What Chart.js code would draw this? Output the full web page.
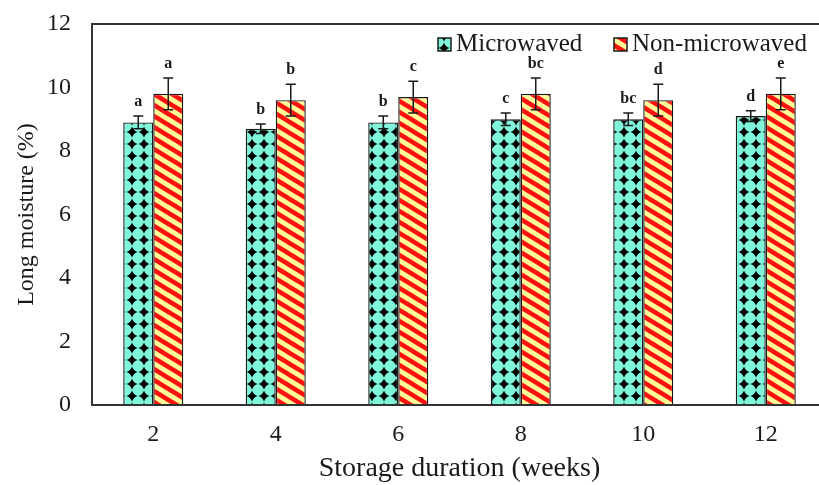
<!DOCTYPE html>
<html><head><meta charset="utf-8">
<script src="https://cdn.jsdelivr.net/npm/chart.js@4.4.0/dist/chart.umd.min.js"></script>
<style>
html,body{margin:0;padding:0;background:#fff;overflow:hidden;width:819px;height:485px}
#wrap{width:830px;height:485px;position:relative}
</style></head>
<body><div id="wrap"><canvas id="c" width="830" height="485"></canvas></div>
<script>
const categories = ['2', '4', '6', '8', '10', '12'];
const microwaved = [8.9, 8.7, 8.9, 9.0, 9.0, 9.1];
const microErr = [0.2, 0.15, 0.2, 0.2, 0.2, 0.17];
const nonMicrowaved = [9.8, 9.6, 9.7, 9.8, 9.6, 9.8];
const nonErr = [0.5, 0.5, 0.5, 0.5, 0.5, 0.5];
const microLetters = ['a', 'b', 'b', 'c', 'bc', 'd'];
const nonLetters = ['a', 'b', 'c', 'bc', 'd', 'e'];
const yTicks = [0, 2, 4, 6, 8, 10, 12];

const SERIF = "'Liberation Serif', 'Times New Roman', serif";
const INK = '#1a1a1a';

function microPattern() {
  const T = 12;
  const c = document.createElement('canvas');
  c.width = T; c.height = T;
  const x = c.getContext('2d');
  x.fillStyle = '#7ff5dc';
  x.fillRect(0, 0, T, T);
  x.fillStyle = '#000';
  const r = 5.6, k = 1.4;
  [[0, 0], [T, 0], [0, T], [T, T]].forEach(([cx, cy]) => {
    x.beginPath();
    x.moveTo(cx, cy - r);
    x.quadraticCurveTo(cx + k, cy - k, cx + r, cy);
    x.quadraticCurveTo(cx + k, cy + k, cx, cy + r);
    x.quadraticCurveTo(cx - k, cy + k, cx - r, cy);
    x.quadraticCurveTo(cx - k, cy - k, cx, cy - r);
    x.fill();
  });
  return x.createPattern(c, 'repeat');
}
function stripePattern() {
  const W = 18, H = 11;
  const c = document.createElement('canvas');
  c.width = W; c.height = H;
  const x = c.getContext('2d');
  x.fillStyle = '#ffff99';
  x.fillRect(0, 0, W, H);
  x.strokeStyle = '#ff1010';
  x.lineWidth = 4.5;
  for (let k = -3; k <= 3; k++) {
    x.beginPath();
    x.moveTo(-W, -H + k * H);
    x.lineTo(2 * W, 2 * H + k * H);
    x.stroke();
  }
  return x.createPattern(c, 'repeat');
}

const microPat = microPattern();
const stripePat = stripePattern();

const errPlugin = {
  id: 'errbars',
  afterDatasetsDraw(chart) {
    const c = chart.ctx, y = chart.scales.y;
    chart.data.datasets.forEach((ds, di) => {
      const meta = chart.getDatasetMeta(di);
      meta.data.forEach((bar, i) => {
        const v = ds.data[i], e = ds.errors[i];
        const yt = y.getPixelForValue(v + e), yb = y.getPixelForValue(v - e);
        c.save();
        c.strokeStyle = INK; c.lineWidth = 1.5;
        c.beginPath();
        c.moveTo(bar.x, yt); c.lineTo(bar.x, yb);
        c.moveTo(bar.x - 5, yt); c.lineTo(bar.x + 5, yt);
        c.moveTo(bar.x - 5, yb); c.lineTo(bar.x + 5, yb);
        c.stroke();
        c.font = 'bold 16px ' + SERIF;
        c.textAlign = 'center'; c.textBaseline = 'alphabetic';
        c.fillStyle = INK;
        c.fillText(ds.letters[i], bar.x, yt - 10);
        c.restore();
      });
    });
  }
};

const legendPlugin = {
  id: 'insideLegend',
  afterDraw(chart) {
    const c = chart.ctx;
    const ds = chart.data.datasets;
    const starts = [438, 614];
    c.save();
    c.font = '25px ' + SERIF;
    c.textBaseline = 'alphabetic';
    c.textAlign = 'left';
    ds.forEach((d, i) => {
      const bx = starts[i], by = 38, s = 13;
      c.fillStyle = d.backgroundColor;
      c.fillRect(bx, by, s, s);
      c.strokeStyle = INK; c.lineWidth = 1.5;
      c.strokeRect(bx, by, s, s);
      c.fillStyle = INK;
      c.fillText(d.label, bx + 18, 51);
    });
    c.restore();
  }
};

new Chart(document.getElementById('c'), {
  type: 'bar',
  data: {
    labels: categories,
    datasets: [
      { label: 'Microwaved', data: microwaved, errors: microErr, letters: microLetters,
        backgroundColor: microPat, borderColor: '#1a1a1a', borderWidth: 1.4 },
      { label: 'Non-microwaved', data: nonMicrowaved, errors: nonErr, letters: nonLetters,
        backgroundColor: stripePat, borderColor: '#1a1a1a', borderWidth: 1.4 }
    ]
  },
  options: {
    responsive: false,
    animation: false,
    layout: { padding: { left: 0, right: 3, top: 24, bottom: 0 } },
    datasets: { bar: { categoryPercentage: 0.49, barPercentage: 1.0 } },
    plugins: { legend: { display: false }, tooltip: { enabled: false } },
    scales: {
      x: {
        grid: { display: false, drawTicks: false },
        border: { display: true, color: '#333', width: 2 },
        ticks: { font: { family: SERIF, size: 24 }, color: INK, padding: 15 },
        title: { display: true, text: 'Storage duration (weeks)', font: { family: SERIF, size: 28 },
                 color: INK, padding: { top: 0, bottom: 0 } },
        afterFit: s => { s.height = 80; }
      },
      y: {
        min: 0, max: 12,
        afterBuildTicks: s => { s.ticks = yTicks.map(v => ({ value: v })); },
        grid: { drawTicks: true, tickLength: 21, tickColor: 'rgba(0,0,0,0)', lineWidth: 2,
                color: ctx => (ctx.tick && ctx.tick.value === 12) ? '#333' : 'rgba(0,0,0,0)' },
        border: { display: true, color: '#333', width: 2 },
        ticks: { font: { family: SERIF, size: 24 }, color: INK, padding: 0 },
        title: { display: true, text: 'Long moisture (%)', font: { family: SERIF, size: 24 },
                 color: INK, padding: { top: 12, bottom: 0 } },
        afterFit: s => { s.width = 92; }
      }
    }
  },
  plugins: [errPlugin, legendPlugin]
});
</script>
</body></html>
